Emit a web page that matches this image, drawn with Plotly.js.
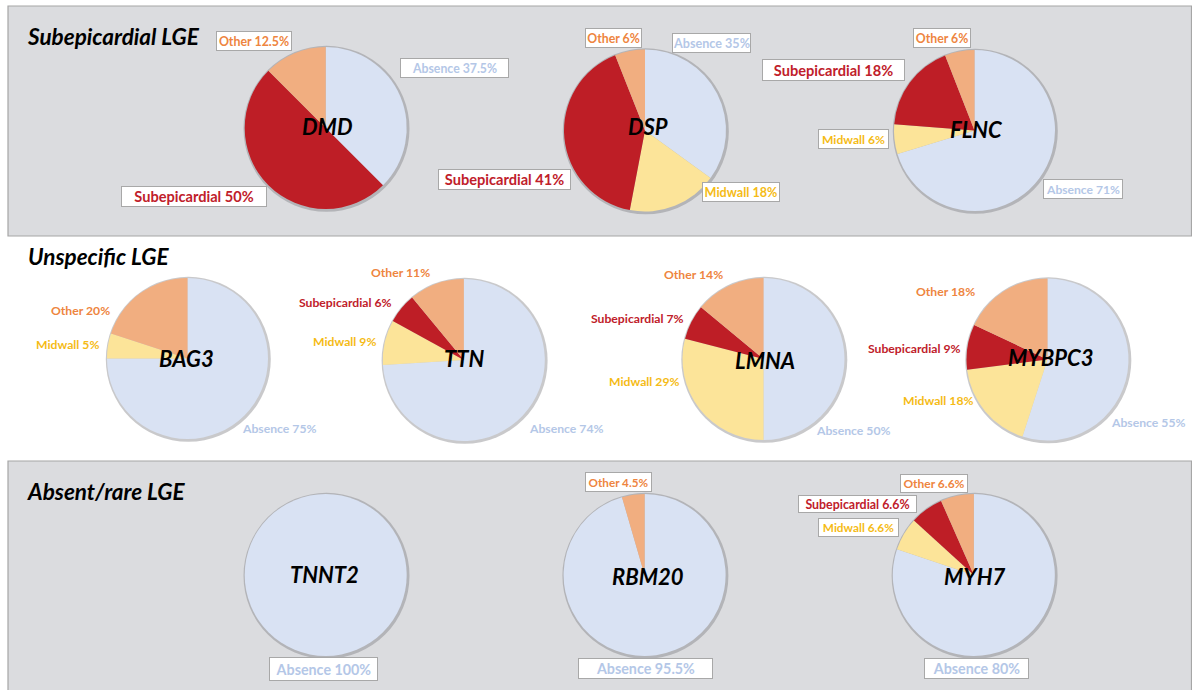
<!DOCTYPE html>
<html>
<head>
<meta charset="utf-8">
<script src="https://cdn.plot.ly/plotly-3.0.1.min.js"></script>
<style>
html,body{margin:0;padding:0;background:#fff;}
#chart{width:1192px;height:690px;}
</style>
</head>
<body>
<div id="chart"></div>
<script>
// ---------------- DATA ----------------
const categories = ['Absence', 'Midwall', 'Subepicardial', 'Other'];
const genes = ['DMD', 'DSP', 'FLNC', 'BAG3', 'TTN', 'LMNA', 'MYBPC3', 'TNNT2', 'RBM20', 'MYH7'];
const absence       = [37.5, 35, 71, 75, 74, 50, 55, 100, 95.5, 80];
const midwall       = [0,    18,  6,  5,  9, 29, 18,   0,    0, 6.6];
const subepicardial = [50,   41, 18,  0,  6,  7,  9,   0,    0, 6.6];
const other         = [12.5,  6,  6, 20, 11, 14, 18,   0,  4.5, 6.6];
const groupTitles = ['Subepicardial LGE', 'Unspecific LGE', 'Absent/rare LGE'];

// ---------------- LAYOUT / STYLE ----------------
const W = 1192, H = 690;
const FONT = 'Lato, "Open Sans", "Liberation Sans", sans-serif';
const sliceColors = ['#d9e2f3', '#fce499', '#be1e26', '#f1ae80'];
const textColors  = ['#b4c7e7', '#f5bb16', '#c0202a', '#ee8540'];

// pie centre x, centre y, radius (px)
const pieGeom = [
  [325.7, 128, 81], [645, 130.5, 81], [974.5, 130.5, 80.5],
  [187.5, 358.5, 80.5], [463.8, 360, 81], [763.5, 359, 81], [1047.5, 359.5, 81],
  [325.7, 575, 81], [644.6, 575, 81], [973.8, 575, 81]
];
const genePos = [[327,126],[648,127],[976,130],[186,358],[464,358],[765,360],[1050,357],[324,574],[648,576],[974,576]];
// per gene, per category: [x, y, boxW, boxH, fontSize] (boxW null => no box)
const labelPos = [
  {Absence:[454.5,68,109,20,12.3], Subepicardial:[194,196.5,146,21,14.6], Other:[254,41,76,20,12.4]},
  {Absence:[711,43,79,20,12.6], Midwall:[741,192,78,20,12.6], Subepicardial:[504.5,179,133,21,14.6], Other:[613,38,57,20,12.3]},
  {Absence:[1083,189,80,20,12.1], Midwall:[853.5,139,71,20,12.1], Subepicardial:[833.5,70,143,22,14.6], Other:[941.7,38,58,20,12.3]},
  {Absence:[279,428,null,null,12.2], Midwall:[67,344,null,null,12.2], Other:[80.7,310,null,null,12.2]},
  {Absence:[566,428,null,null,12.2], Midwall:[344,341,null,null,12.2], Subepicardial:[345,302,null,null,12.2], Other:[401,272,null,null,12.2]},
  {Absence:[852.5,430,null,null,12.2], Midwall:[644,381,null,null,12.2], Subepicardial:[637,319,null,null,12.2], Other:[693.5,274,null,null,12.2]},
  {Absence:[1147.5,422,null,null,12.2], Midwall:[938,400,null,null,12.2], Subepicardial:[914,348,null,null,12.2], Other:[945.6,291,null,null,12.2]},
  {Absence:[323.5,668.7,109,24,14.3]},
  {Absence:[645.5,668.5,135,21,14.3], Other:[618.5,482,67,20,11.7]},
  {Absence:[976,668.5,105,21,14.3], Midwall:[858.5,527.5,81,19,11.8], Subepicardial:[857.5,504,119,18,12.4], Other:[934,483.5,68,19,12]}
];
const titlePos = [[25,36],[26,256],[25,491]];

const px = x => x / W;
const py = y => 1 - y / H;

const traces = [];
const annotations = [];

genes.forEach((g, i) => {
  const [cx, cy, r] = pieGeom[i];
  const vals = [absence[i], midwall[i], subepicardial[i], other[i]];
  // soft shadow ring behind the pie
  const rs = r + 2;
  traces.push({
    type: 'pie', values: [1], labels: ['shadow'], sort: false,
    marker: {colors: ['rgba(120,120,125,0.4)'], line: {width: 0}},
    textinfo: 'none', hoverinfo: 'skip', showlegend: false,
    domain: {x: [px(cx - rs + 0.8), px(cx + rs + 0.8)], y: [py(cy + rs + 0.8), py(cy - rs + 0.8)]}
  });
  traces.push({
    type: 'pie', values: vals, labels: categories, sort: false,
    direction: 'clockwise', rotation: 0,
    marker: {colors: sliceColors, line: {width: 0}},
    textinfo: 'none', hoverinfo: 'label+value', showlegend: false, name: g,
    domain: {x: [px(cx - r), px(cx + r)], y: [py(cy + r), py(cy - r)]}
  });
  // gene name
  annotations.push({
    xref: 'paper', yref: 'paper', x: px(genePos[i][0]), y: py(genePos[i][1]),
    xanchor: 'center', yanchor: 'middle', showarrow: false,
    text: '<b><i>' + g + '</i></b>',
    font: {family: FONT, size: 22, color: '#000'}
  });
  // slice labels
  categories.forEach((c, k) => {
    const p = labelPos[i][c];
    if (!p || vals[k] === 0) return;
    const a = {
      xref: 'paper', yref: 'paper', x: px(p[0]), y: py(p[1]),
      xanchor: 'center', yanchor: 'middle', showarrow: false,
      text: '<b>' + c + ' ' + vals[k] + '%</b>',
      font: {family: FONT, size: p[4], color: textColors[k]}
    };
    if (p[2]) {
      a.bgcolor = '#ffffff'; a.bordercolor = '#a8a8a8'; a.borderwidth = 1; a.borderpad = 0;
      a.width = p[2] - 2; a.height = p[3] - 2;
    }
    annotations.push(a);
  });
});

groupTitles.forEach((t, j) => {
  annotations.push({
    xref: 'paper', yref: 'paper', x: px(titlePos[j][0]), y: py(titlePos[j][1]),
    xanchor: 'left', yanchor: 'middle', showarrow: false,
    text: '<b><i>' + t + '</i></b>',
    font: {family: FONT, size: 22.5, color: '#000'}
  });
});

const shapes = [
  {type: 'rect', xref: 'paper', yref: 'paper', x0: px(8), x1: px(1191.5), y0: py(236), y1: py(6),
   fillcolor: '#dbdcdf', line: {color: '#a6a6a6', width: 1.2}, layer: 'below'},
  {type: 'rect', xref: 'paper', yref: 'paper', x0: px(8), x1: px(1191.5), y0: py(692), y1: py(461),
   fillcolor: '#dbdcdf', line: {color: '#a6a6a6', width: 1.2}, layer: 'below'}
];

const layout = {
  width: W, height: H,
  margin: {l: 0, r: 0, t: 0, b: 0, pad: 0},
  paper_bgcolor: '#ffffff', plot_bgcolor: '#ffffff',
  showlegend: false,
  annotations: annotations,
  shapes: shapes,
  font: {family: FONT}
};

Plotly.newPlot('chart', traces, layout, {displayModeBar: false, staticPlot: true});
</script>
</body>
</html>
